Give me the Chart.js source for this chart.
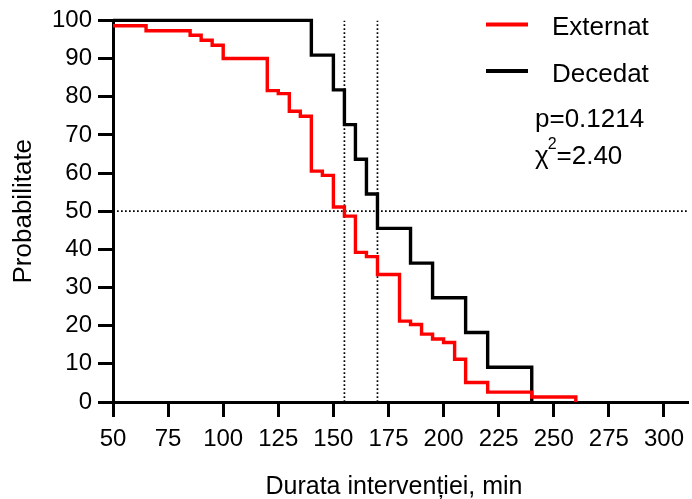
<!DOCTYPE html>
<html>
<head>
<meta charset="utf-8">
<script src="https://cdn.jsdelivr.net/npm/chart.js@4.4.1/dist/chart.umd.min.js"></script>
<style>
  html, body { margin: 0; padding: 0; background: #fff; }
  canvas { display: block; }
</style>
</head>
<body>
<canvas id="km" width="692" height="499"></canvas>
<script>
const FONT = "'Liberation Sans', Arial, sans-serif";

// Kaplan-Meier steps: time (min) where the curve drops, survival (%) after the drop
const externatTimes = [50, 65, 85, 90, 95, 100, 120, 125, 130, 135, 140, 145, 150, 155, 160, 165, 170, 180, 185, 190, 195, 200, 205, 210, 220, 240, 260];
const externatSurvival = [98.6, 97.3, 96.1, 94.8, 93.5, 90.0, 81.6, 80.8, 76.2, 74.9, 60.5, 59.4, 51.1, 48.7, 39.2, 38.1, 33.4, 21.2, 20.3, 17.8, 16.5, 15.6, 11.2, 5.1, 2.6, 1.3, 0];

const decedatTimes = [50, 140, 150, 155, 160, 165, 170, 185, 195, 210, 220, 240];
const decedatSurvival = [100, 90.9, 81.8, 72.7, 63.6, 54.5, 45.5, 36.4, 27.3, 18.2, 9.1, 0];

// median reference lines
const medianTimes = [155, 170];
const medianLevel = 50;

const xTicks = [50, 75, 100, 125, 150, 175, 200, 225, 250, 275, 300];
const xMin = 50, xMax = 311;

const statsText = ['p=0.1214', '2.40'];

function toPoints(xs, ys) {
    return xs.map((x, i) => ({x: x, y: ys[i]}));
}

const dotted = {
    borderColor: '#000',
    borderWidth: 1.7,
    borderDash: [1.7, 2.3],
    pointRadius: 0,
    fill: false,
    refLine: true
};

const datasets = [
    {
        label: 'Externat',
        data: toPoints(externatTimes, externatSurvival),
        stepped: 'before',
        borderColor: '#ff0000',
        borderWidth: 3.4,
        pointRadius: 0,
        fill: false,
        clip: false
    },
    {
        label: 'Decedat',
        data: toPoints(decedatTimes, decedatSurvival),
        stepped: 'before',
        borderColor: '#000000',
        borderWidth: 3.4,
        pointRadius: 0,
        fill: false,
        clip: false
    },
    Object.assign({ data: [{x: xMin, y: medianLevel}, {x: xMax, y: medianLevel}] }, dotted),
    ...medianTimes.map(t => Object.assign({ data: [{x: t, y: 0}, {x: t, y: 100}] }, dotted))
];

// legend, stats and x title drawn on the canvas
const annotations = {
    id: 'annotations',
    afterDraw(chart) {
        const ctx = chart.ctx;
        ctx.save();
        ctx.fillStyle = '#000';
        ctx.textBaseline = 'alphabetic';
        ctx.textAlign = 'left';

        // legend
        let row = 0;
        chart.data.datasets.forEach(ds => {
            if (ds.refLine) return;
            const y = 24.5 + row * 46.4;
            ctx.strokeStyle = ds.borderColor;
            ctx.lineWidth = 4;
            ctx.beginPath();
            ctx.moveTo(486, y);
            ctx.lineTo(528, y);
            ctx.stroke();
            ctx.font = '26px ' + FONT;
            ctx.fillText(ds.label, 552, y + 10.7);
            row++;
        });

        // stats
        ctx.font = '26px ' + FONT;
        ctx.fillText(statsText[0], 535, 127);
        const chiW = ctx.measureText('\u03C7').width;
        ctx.fillText('\u03C7', 535, 163.5);
        ctx.font = '16px ' + FONT;
        ctx.fillText('2', 535 + chiW - 1, 149);
        const supW = ctx.measureText('2').width;
        ctx.font = '26px ' + FONT;
        ctx.fillText('=' + statsText[1], 535 + chiW - 1 + supW, 163.5);

        // x axis title
        ctx.textAlign = 'center';
        ctx.font = '25px ' + FONT;
        ctx.fillText('Durata interven\u021Biei, min', 394, 494);
        ctx.restore();
    }
};

new Chart(document.getElementById('km'), {
    type: 'line',
    data: { datasets: datasets },
    options: {
        responsive: false,
        animation: false,
        devicePixelRatio: 1,
        layout: { padding: { top: 18, right: 0, left: 0, bottom: 0 } },
        plugins: {
            legend: { display: false },
            tooltip: { enabled: false }
        },
        scales: {
            x: {
                type: 'linear',
                min: xMin,
                max: xMax,
                afterBuildTicks: scale => { scale.ticks = xTicks.map(v => ({value: v})); },
                afterFit: scale => { scale.height = 97; },
                border: { display: true, color: '#000', width: 3 },
                grid: { drawOnChartArea: false, drawTicks: true, tickLength: 15, tickWidth: 3, tickColor: '#000' },
                ticks: { color: '#000', padding: 8, maxRotation: 0, autoSkip: false, font: { size: 24, family: FONT } }
            },
            y: {
                min: 0,
                max: 100,
                afterFit: scale => { scale.width = 113; },
                border: { display: true, color: '#000', width: 3 },
                grid: { drawOnChartArea: false, drawTicks: true, tickLength: 15, tickWidth: 3, tickColor: '#000' },
                ticks: { color: '#000', stepSize: 10, padding: 6, font: { size: 24, family: FONT } },
                title: {
                    display: true,
                    text: 'Probabilitate',
                    color: '#000',
                    padding: { top: 8, bottom: 0 },
                    font: { size: 26, family: FONT }
                }
            }
        }
    },
    plugins: [annotations]
});
</script>
</body>
</html>
